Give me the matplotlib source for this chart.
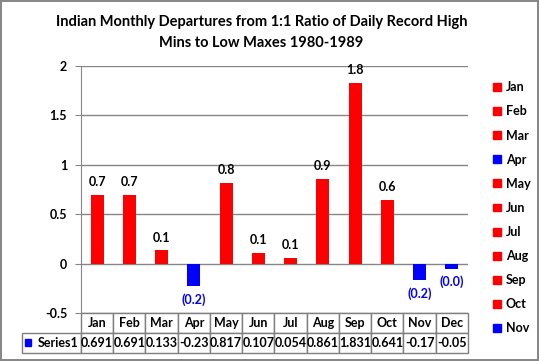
import matplotlib
matplotlib.use('Agg')
import matplotlib.pyplot as plt
from matplotlib.patches import Patch, Rectangle

plt.rcParams['font.family'] = ['Lato', 'DejaVu Sans']
plt.rcParams['font.weight'] = 'bold'

months = ['Jan', 'Feb', 'Mar', 'Apr', 'May', 'Jun',
          'Jul', 'Aug', 'Sep', 'Oct', 'Nov', 'Dec']
values = [0.691, 0.691, 0.133, -0.23, 0.817, 0.107,
          0.054, 0.861, 1.831, 0.641, -0.17, -0.05]
bar_labels = ['0.7', '0.7', '0.1', '(0.2)', '0.8', '0.1',
              '0.1', '0.9', '1.8', '0.6', '(0.2)', '(0.0)']
yticks = [-0.5, 0, 0.5, 1, 1.5, 2]

RED = '#ff0000'
BLUE = '#0000ff'
GRID = '#868686'

colors = [RED if v >= 0 else BLUE for v in values]

fig = plt.figure(figsize=(5.39, 3.61), dpi=100)
fig.patch.set_edgecolor('#888888')
fig.patch.set_linewidth(1.5)

ax = fig.add_axes([81 / 539, 1 - 313 / 361, 387 / 539, 247 / 361])

x = list(range(len(months)))
ax.bar(x, values, width=0.4, color=colors, zorder=3)

for i, (v, lab) in enumerate(zip(values, bar_labels)):
    if v >= 0:
        ax.annotate(lab, (i, v), xytext=(0, 5), textcoords='offset points',
                    ha='center', va='bottom', fontsize=9, color='black')
    else:
        ax.annotate(lab, (i, v), xytext=(0, -5), textcoords='offset points',
                    ha='center', va='top', fontsize=9, color=BLUE)

ax.set_xlim(-0.5, len(months) - 0.5)
ax.set_ylim(-0.5, 2)
ax.set_yticks(yticks)
ax.set_yticklabels([f'{t:g}' for t in yticks], fontsize=9)
ax.set_xticks([])
ax.yaxis.grid(True, color=GRID, linewidth=1, zorder=0)
for s in ['top', 'right', 'bottom']:
    ax.spines[s].set_visible(False)
ax.spines['left'].set_color(GRID)
ax.tick_params(axis='y', color=GRID, length=4, pad=6)

fig.suptitle('Indian Monthly Departures from 1:1 Ratio of Daily Record High\n'
             'Mins to Low Maxes 1980-1989',
             x=0.485, y=0.958, fontsize=10.5, fontweight='bold', linespacing=1.6)

# data table under the plot
first_w = 59 / 387
col_w = 1.0 / 12
cell_text = [[''] + months, ['Series1'] + [str(v) for v in values]]
tbl = ax.table(cellText=cell_text, cellLoc='center',
               colWidths=[first_w] + [col_w] * 12,
               bbox=[-first_w, -40 / 247, 1 + first_w, 40 / 247])
tbl.auto_set_font_size(False)
tbl.set_fontsize(9)
for (r, c), cell in tbl.get_celld().items():
    cell.set_edgecolor('#7f7f7f')
    cell.set_linewidth(1)
    cell.get_text().set_fontweight('bold')
    if r == 0 and c == 0:
        cell.visible_edges = ''
    if r == 1 and c == 0:
        cell.PAD = 0.04
        cell.get_text().set_ha('right')
        cell._loc = 'right'
ax.add_patch(Rectangle((-first_w + 3 / 387, -33 / 247), 6 / 387, 7 / 247,
                       transform=ax.transAxes, color=BLUE, clip_on=False))

# legend (last month falls outside the chart area in the original)
handles = [Patch(color=c) for c in colors[:11]]
fig.legend(handles, months[:11], loc='upper left',
           bbox_to_anchor=(482 / 539, 1 - 70 / 361), frameon=False,
           fontsize=9, handlelength=0.6, handleheight=0.6,
           handletextpad=0.4, labelspacing=0.97)

fig.savefig('out.png', dpi=100)
